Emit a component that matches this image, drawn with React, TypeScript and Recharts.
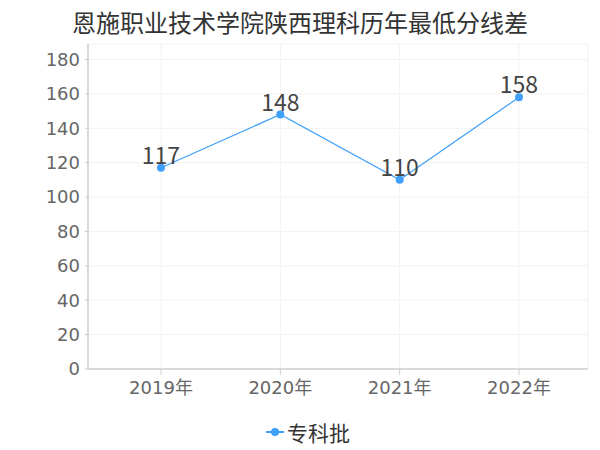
import React from "react";
import { CartesianGrid, LabelList, Legend, Line, LineChart, XAxis, YAxis } from "recharts";

const years = ["2019年", "2020年", "2021年", "2022年"];
const scoreGap = [117, 148, 110, 158];
const yTicks = [0, 20, 40, 60, 80, 100, 120, 140, 160, 180];

const title = "恩施职业技术学院陕西理科历年最低分线差";
const seriesName = "专科批";
const blue = "#3ea0fb";
const cjkFont = "'Noto Sans CJK SC', 'Noto Sans', sans-serif";
const numFont = "'DejaVu Sans', 'Noto Sans CJK SC', sans-serif";

const data = years.map((year, i) => ({ year, value: scoreGap[i] }));

function LegendBox() {
  return (
    <div
      style={{
        height: 46,
        paddingTop: 10,
        boxSizing: "border-box",
        display: "flex",
        justifyContent: "center",
        alignItems: "center",
        fontFamily: cjkFont,
        fontSize: 21,
        color: "#333",
      }}
    >
      <svg width={18} height={12} style={{ marginRight: 3 }}>
        <line x1={0} y1={6} x2={18} y2={6} stroke={blue} strokeWidth={2} />
        <circle cx={9} cy={6} r={4} fill={blue} />
      </svg>
      <span>{seriesName}</span>
    </div>
  );
}

export default function App() {
  return (
    <div style={{ position: "absolute", left: 0, top: 0, width: 600, height: 450, background: "#fff" }}>
      <div
        style={{
          position: "absolute",
          top: 4,
          width: 600,
          textAlign: "center",
          fontFamily: cjkFont,
          fontSize: 24,
          color: "#333",
        }}
      >
        {title}
      </div>
      <LineChart width={600} height={450} data={data} margin={{ top: 44, right: 12, bottom: 0, left: 28 }}>
        <CartesianGrid stroke="#f2f2f2" />
        <XAxis
          dataKey="year"
          scale="point"
          padding={{ left: 73, right: 69 }}
          height={35}
          tick={{ fontSize: 18, fill: "#666", fontFamily: numFont }}
          tickMargin={6}
          axisLine={{ stroke: "#bbb" }}
          tickLine={{ stroke: "#ccc" }}
        />
        <YAxis
          domain={[0, 189]}
          ticks={yTicks}
          width={60}
          tick={{ fontSize: 18, fill: "#666", fontFamily: numFont }}
          tickSize={3}
          tickMargin={5}
          axisLine={{ stroke: "#bbb" }}
          tickLine={{ stroke: "#ccc" }}
        />
        <Legend verticalAlign="bottom" content={<LegendBox />} />
        <Line
          type="linear"
          dataKey="value"
          name={seriesName}
          stroke={blue}
          strokeWidth={1.2}
          dot={{ r: 4, fill: blue, stroke: blue, strokeWidth: 0 }}
          isAnimationActive={false}
        >
          <LabelList dataKey="value" position="top" offset={4} style={{ fontSize: 23, fill: "#444", fontFamily: cjkFont }} />
        </Line>
      </LineChart>
    </div>
  );
}
